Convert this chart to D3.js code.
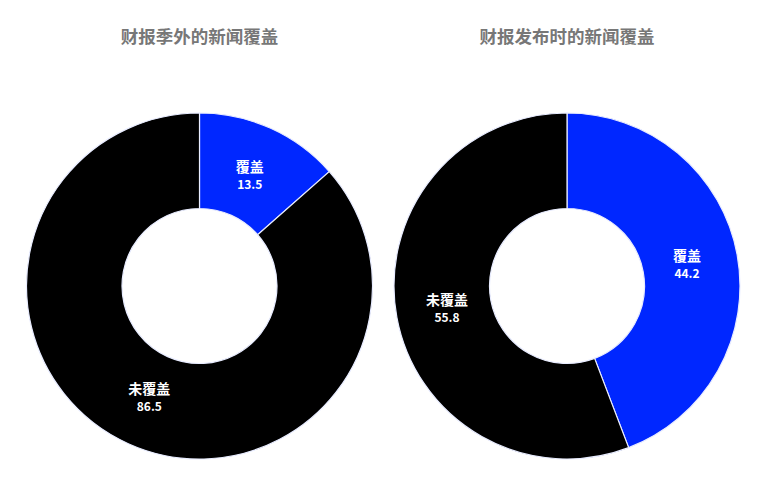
<!DOCTYPE html>
<html>
<head>
<meta charset="utf-8">
<script src="https://cdn.jsdelivr.net/npm/d3@7"></script>
<style>
  html, body { margin: 0; padding: 0; background: #fff; }
  svg { display: block; font-family: "Noto Sans CJK SC", "Noto Sans", sans-serif; }
</style>
</head>
<body>
<svg id="chart" width="768" height="489"></svg>
<script>
const titles = ["财报季外的新闻覆盖", "财报发布时的新闻覆盖"];
const categories = ["覆盖", "未覆盖"];
const offSeasonValues = [13.5, 86.5];
const earningsValues = [44.2, 55.8];
const colors = ["#0027ff", "#000000"];

const svg = d3.select("#chart");
const W = 768, H = 489;
const outerR = 173, innerR = 77.5, labelR = 122;
const centers = d3.scalePoint().domain([0, 1]).range([199.5, 567]);
const cy = 286;

const pie = d3.pie().sort(null).value(d => d.value);
const arc = d3.arc().innerRadius(innerR).outerRadius(outerR);
const labelArc = d3.arc().innerRadius(labelR).outerRadius(labelR);

[offSeasonValues, earningsValues].forEach((vals, i) => {
  const data = categories.map((c, j) => ({ name: c, value: vals[j], color: colors[j] }));
  const cx = centers(i);
  svg.append("text")
    .attr("x", cx).attr("y", 43)
    .attr("text-anchor", "middle")
    .attr("font-size", 17.5).attr("font-weight", "bold")
    .attr("fill", "#777777")
    .text(titles[i]);

  const g = svg.append("g").attr("transform", `translate(${cx},${cy})`);
  const arcs = pie(data);
  g.selectAll("path").data(arcs).join("path")
    .attr("d", arc)
    .attr("fill", d => d.data.color)
    .attr("stroke", "#e8ecff")
    .attr("stroke-width", 1.2);

  const lab = g.selectAll("g.lab").data(arcs).join("g")
    .attr("class", "lab")
    .attr("transform", d => `translate(${labelArc.centroid(d)})`);
  lab.append("text")
    .attr("text-anchor", "middle")
    .attr("y", -3)
    .attr("font-size", 14).attr("font-weight", "bold")
    .attr("fill", "#fff")
    .text(d => d.data.name);
  lab.append("text")
    .attr("text-anchor", "middle")
    .attr("y", 14)
    .attr("font-size", 12).attr("font-weight", "bold")
    .attr("fill", "#fff")
    .text(d => d.data.value.toFixed(1));
});
</script>
</body>
</html>
